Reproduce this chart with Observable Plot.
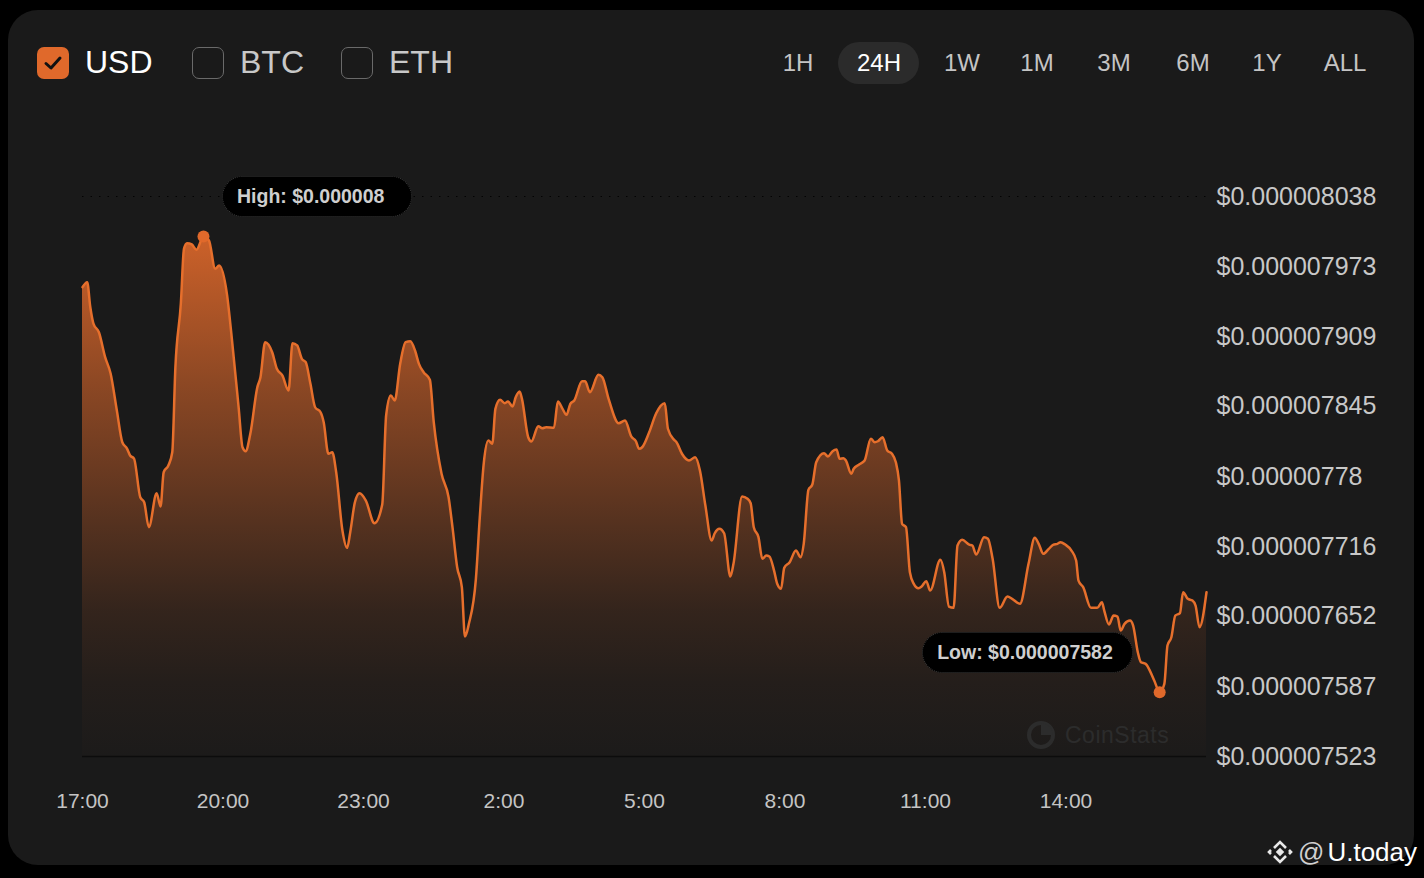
<!DOCTYPE html>
<html><head><meta charset="utf-8">
<script src="https://cdn.jsdelivr.net/npm/d3@7"></script>
<script src="https://cdn.jsdelivr.net/npm/@observablehq/plot@0.6"></script>
<style>
html,body{margin:0;padding:0;background:#000;}
body{width:1424px;height:878px;position:relative;overflow:hidden;font-family:"Liberation Sans",Arial,sans-serif;}
#card{position:absolute;left:8px;top:10px;width:1406px;height:855px;background:#1a1a1a;border-radius:30px;}
.cb{position:absolute;top:47px;width:32px;height:32px;border-radius:7px;box-sizing:border-box;}
.cb.on{background:#e0692b;}
.cb.off{border:1.5px solid #6a6a6a;}
.cur{position:absolute;top:41px;font-size:32px;line-height:42px;color:#c8c8c8;}
.rng{position:absolute;top:44px;height:38px;line-height:38px;font-size:24px;color:#c4c4c4;transform:translateX(-50%);white-space:nowrap;}
#pill{position:absolute;left:838px;top:42px;width:81px;height:42px;border-radius:21px;background:#2b2b2b;}
#chart{position:absolute;left:0;top:120px;}
.tip{position:absolute;height:41px;box-sizing:border-box;border:1px dotted #3c3c3c;border-radius:21px;background:#000;color:#cfcfcf;font-weight:bold;font-size:19.5px;line-height:39px;padding-left:14px;white-space:nowrap;}
#wm{position:absolute;left:1026px;top:720px;height:30px;display:flex;align-items:center;color:#2c2c2c;font-size:23px;letter-spacing:0.5px;}
#ut{position:absolute;left:1266px;top:836px;height:32px;display:flex;align-items:center;font-size:26px;color:#fff;}
</style>
</head>
<body>
<div id="card"></div>
<div id="header"></div>
<div id="chart"></div>
<div id="wm"><svg width="30" height="30" viewBox="0 0 30 30" style="margin-right:9px"><circle cx="15" cy="15" r="12" fill="none" stroke="#2c2c2c" stroke-width="4"/><path d="M15 15 L15 3 A12 12 0 0 1 27 15 Z" fill="#2c2c2c"/></svg>CoinStats</div>
<div id="ut"><svg width="28" height="28" viewBox="0 0 28 28" style="margin-right:4px"><g fill="none" stroke="#e8e8e8" stroke-width="2.6"><path d="M8 10 L14 4 L20 10"/><path d="M8 18 L14 24 L20 18"/><path d="M5 12 L3 14 L5 16"/><path d="M23 12 L25 14 L23 16"/></g><rect x="11" y="11" width="6" height="6" fill="#e8e8e8" transform="rotate(45 14 14)"/></svg><span style="color:#d0d0d0;margin-right:3px">@</span><span>U.today</span></div>
<script>
// ---- data ----
const currencies = ["USD", "BTC", "ETH"];
const activeCurrency = "USD";
const ranges = ["1H", "24H", "1W", "1M", "3M", "6M", "1Y", "ALL"];
const activeRange = "24H";

const times = ["17:00","17:06","17:10","17:14","17:21","17:29","17:36","17:44","17:51","17:57","18:01","18:06","18:14","18:19","18:25","18:35","18:40","18:44","18:50","18:55","18:59","19:06","19:10","19:14","19:20","19:26","19:35","19:42","19:50","19:55","20:05","20:12","20:20","20:25","20:29","20:35","20:44","20:48","20:54","21:03","21:09","21:16","21:24","21:29","21:35","21:41","21:46","21:52","21:58","22:05","22:09","22:15","22:20","22:25","22:33","22:39","22:43","22:49","22:55","23:03","23:14","23:24","23:29","23:35","23:40","23:47","23:54","00:00","00:06","00:11","00:17","00:25","00:30","00:40","00:49","00:54","01:00","01:06","01:10","01:15","01:24","01:29","01:34","01:40","01:45","01:49","01:55","02:01","02:05","02:11","02:15","02:20","02:23","02:31","02:35","02:44","02:49","02:54","03:04","03:09","03:15","03:20","03:25","03:30","03:40","03:44","03:50","04:01","04:06","04:14","04:27","04:35","04:43","04:49","04:53","04:57","05:06","05:15","05:26","05:30","05:38","05:41","05:48","05:57","06:05","06:11","06:18","06:26","06:30","06:36","06:42","06:50","06:54","07:05","07:12","07:16","07:20","07:26","07:31","07:36","07:40","07:46","07:50","07:55","07:59","08:06","08:14","08:20","08:24","08:30","08:35","08:40","08:50","08:55","09:01","09:06","09:10","09:15","09:18","09:25","09:28","09:35","09:42","09:50","09:55","09:59","10:05","10:11","10:17","10:22","10:26","10:30","10:35","10:40","10:45","10:51","10:55","11:01","11:06","11:19","11:24","11:30","11:36","11:41","11:47","11:56","12:00","12:05","12:15","12:20","12:26","12:35","12:45","12:51","13:01","13:12","13:20","13:25","13:31","13:38","13:44","13:49","13:53","13:59","14:07","14:13","14:16","14:22","14:32","14:40","14:46","14:49","14:55","15:01","15:06","15:10","15:15","15:22","15:26","15:32","15:36","15:42","15:53","16:00","16:06","16:10","16:15","16:20","16:26","16:30","16:36","16:42","16:46","16:51","17:00"];

// price in USD x 1e-6
const pricesE6 = [7.9546,7.9592,7.9362,7.9212,7.9132,7.8902,7.8752,7.8412,7.8120,7.8062,7.7998,7.7970,7.7614,7.7568,7.7339,7.7651,7.7529,7.7844,7.7906,7.8028,7.8810,7.9396,7.9899,7.9950,7.9939,7.9890,8.0012,7.9975,7.9715,7.9745,7.9485,7.9025,7.8442,7.8074,7.8038,7.8198,7.8626,7.8718,7.9040,7.8948,7.8795,7.8734,7.8596,7.9031,7.9010,7.8887,7.8856,7.8657,7.8442,7.8396,7.8304,7.8014,7.8028,7.7844,7.7308,7.7149,7.7293,7.7568,7.7651,7.7584,7.7375,7.7547,7.8366,7.8550,7.8504,7.8841,7.9040,7.9049,7.8964,7.8841,7.8764,7.8694,7.8304,7.7830,7.7614,7.7339,7.6971,7.6787,7.6333,7.6450,7.6864,7.7431,7.7922,7.8136,7.8106,7.8427,7.8510,7.8479,7.8495,7.8449,7.8534,7.8587,7.8519,7.8166,7.8127,7.8267,7.8249,7.8258,7.8253,7.8495,7.8427,7.8372,7.8473,7.8504,7.8681,7.8681,7.8580,7.8740,7.8718,7.8519,7.8295,7.8320,7.8173,7.8129,7.8060,7.8074,7.8212,7.8387,7.8479,7.8244,7.8142,7.8120,7.8014,7.7952,7.7982,7.7860,7.7538,7.7216,7.7283,7.7324,7.7283,7.6885,7.7002,7.7621,7.7600,7.7559,7.7339,7.7247,7.7048,7.7078,7.7069,7.6940,7.6818,7.6772,7.6965,7.7017,7.7124,7.7063,7.7186,7.7682,7.7731,7.7936,7.8019,7.7989,7.8038,7.8053,7.7968,7.7973,7.7952,7.7830,7.7876,7.7915,7.7952,7.8152,7.8120,7.8129,7.8166,7.8044,7.8014,7.7936,7.7768,7.7370,7.7339,7.6925,7.6818,7.6777,7.6793,7.6842,7.6756,7.7039,7.6925,7.6609,7.6597,7.7170,7.7223,7.7179,7.7170,7.7087,7.7247,7.7232,7.7048,7.6597,7.6701,7.6680,7.6634,7.7002,7.7241,7.7186,7.7094,7.7140,7.7179,7.7186,7.7201,7.7179,7.7124,7.7032,7.6848,7.6787,7.6597,7.6597,7.6649,7.6572,7.6444,7.6526,7.6517,7.6388,7.6450,7.6480,7.6434,7.6189,7.6097,7.6082,7.5929,7.5820,7.5898,7.6251,7.6327,7.6526,7.6548,7.6741,7.6680,7.6664,7.6618,7.6419,7.6741];

const yTickValues = [8.038, 7.973, 7.909, 7.845, 7.780, 7.716, 7.652, 7.587, 7.523];
const yTickLabels = ["$0.000008038","$0.000007973","$0.000007909","$0.000007845","$0.00000778","$0.000007716","$0.000007652","$0.000007587","$0.000007523"];
const xTickLabels = ["17:00","20:00","23:00","2:00","5:00","8:00","11:00","14:00"];
const highLabel = "High: $0.000008";
const lowLabel = "Low: $0.000007582";

// ---- helpers ----
function toDates(list) {
  let day = 0, prev = -1;
  return list.map(s => {
    const [h, m] = s.split(":").map(Number);
    const mins = h * 60 + m;
    if (mins < prev) day++;
    prev = mins;
    return new Date(Date.UTC(2024, 0, 1 + day, h, m));
  });
}
const dates = toDates(times);
const data = dates.map((d, i) => ({date: d, price: pricesE6[i]}));
const xTicks = toDates(xTickLabels);
const xStart = dates[0], xEnd = dates[dates.length - 1];
const yMin = yTickValues[yTickValues.length - 1], yMax = yTickValues[0];
const hi = data.reduce((a, b) => (b.price > a.price ? b : a));
const lo = data.reduce((a, b) => (b.price < a.price ? b : a));

// ---- header ----
const header = document.getElementById("header");
const cbLeft = [37, 192, 341], txtLeft = [85, 240, 389];
currencies.forEach((c, i) => {
  const on = c === activeCurrency;
  const b = document.createElement("div");
  b.className = "cb " + (on ? "on" : "off");
  b.style.left = cbLeft[i] + "px";
  if (on) b.innerHTML = '<svg width="32" height="32" viewBox="0 0 32 32"><path d="M9 16.5 L14 21 L23 11" fill="none" stroke="#111" stroke-width="3" stroke-linecap="round" stroke-linejoin="round"/></svg>';
  header.appendChild(b);
  const t = document.createElement("div");
  t.className = "cur";
  t.style.left = txtLeft[i] + "px";
  t.style.color = on ? "#ffffff" : "#c8c8c8";
  t.textContent = c;
  header.appendChild(t);
});
const pill = document.createElement("div");
pill.id = "pill";
header.appendChild(pill);
const rngCenters = [798, 879, 962, 1037, 1114, 1193, 1267, 1345];
ranges.forEach((r, i) => {
  const t = document.createElement("div");
  t.className = "rng";
  t.style.left = rngCenters[i] + "px";
  if (r === activeRange) t.style.color = "#ffffff";
  t.textContent = r;
  header.appendChild(t);
});

// ---- chart ----
const gradient = () => {
  const ns = "http://www.w3.org/2000/svg";
  const defs = document.createElementNS(ns, "defs");
  defs.innerHTML = `<linearGradient id="areaGrad" x1="0" y1="0" x2="0" y2="1">
    <stop offset="0" stop-color="#e0692b" stop-opacity="0.9"/>
    <stop offset="0.3" stop-color="#e0692b" stop-opacity="0.56"/>
    <stop offset="0.55" stop-color="#e0692b" stop-opacity="0.3"/>
    <stop offset="0.72" stop-color="#e0692b" stop-opacity="0.13"/>
    <stop offset="0.86" stop-color="#e0692b" stop-opacity="0.05"/>
    <stop offset="1" stop-color="#e0692b" stop-opacity="0.01"/>
  </linearGradient>`;
  return defs;
};

const curve = "monotone-x";
const plot = Plot.plot({
  width: 1424,
  height: 720,
  marginLeft: 82,
  marginRight: 218,
  marginTop: 76,
  marginBottom: 84,
  style: {background: "transparent", color: "#c8c8c8", fontFamily: "'Liberation Sans', Arial, sans-serif", overflow: "visible"},
  x: {type: "utc", domain: [xStart, xEnd]},
  y: {domain: [yMin, yMax]},
  marks: [
    gradient,
    Plot.ruleY([yMax], {stroke: "#000", strokeOpacity: 0.85, strokeDasharray: "1.5 7"}),
    Plot.areaY(data, {x: "date", y1: () => yMin, y2: "price", fill: "url(#areaGrad)", curve}),
    Plot.ruleY([yMin], {stroke: "#0c0c0c", strokeWidth: 1.5}),
    Plot.lineY(data, {x: "date", y: "price", stroke: "#e66f2c", strokeWidth: 2.5, curve}),
    Plot.dot([hi, lo], {x: "date", y: "price", r: 6, fill: "#e0692b", stroke: "none"}),
    Plot.axisX({ticks: xTicks, tickFormat: (d, i) => xTickLabels[i], tickSize: 0, tickPadding: 37, fontSize: 21, fill: "#c4c4c4", label: null}),
    Plot.axisY({anchor: "right", ticks: yTickValues, tickFormat: (d, i) => yTickLabels[i], tickSize: 0, tickPadding: 10, fontSize: 25, fill: "#c8c8c8", label: null})
  ]
});
const chart = document.getElementById("chart");
chart.appendChild(plot);

// ---- high / low annotations positioned via the plot's scales ----
const sx = plot.scale("x"), sy = plot.scale("y");
const top0 = 120;
function addTip(text, left, top, width) {
  const d = document.createElement("div");
  d.className = "tip";
  d.style.left = left + "px";
  d.style.top = top + "px";
  d.style.width = width + "px";
  d.textContent = text;
  document.body.appendChild(d);
}
const hx = sx.apply(hi.date), hy = sy.apply(hi.price) + top0;
addTip(highLabel, hx + 19, hy - 60, 190);
const lx = sx.apply(lo.date), ly = sy.apply(lo.price) + top0;
addTip(lowLabel, lx - 26 - 211, ly - 60, 211);
</script>
</body></html>
